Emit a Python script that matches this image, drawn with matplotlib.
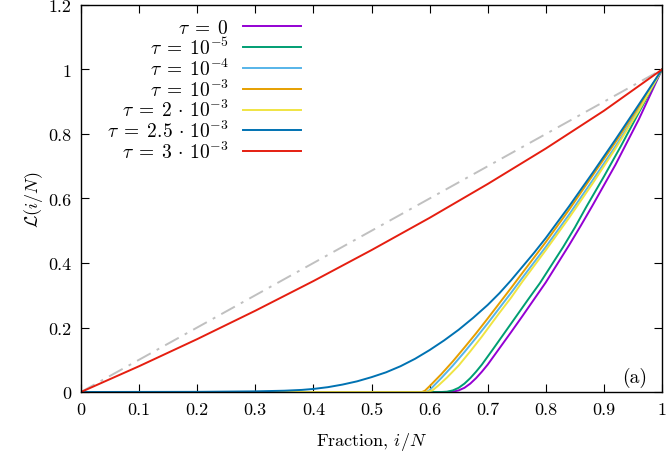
import matplotlib
matplotlib.use("Agg")
import matplotlib.pyplot as plt
from matplotlib.ticker import MultipleLocator, FuncFormatter

plt.rcParams['font.family'] = 'cmr10'
plt.rcParams['mathtext.fontset'] = 'cm'
plt.rcParams['axes.formatter.use_mathtext'] = True

# Lorenz curves
x_tau0 = [0, 0.63, 0.64, 0.65, 0.66, 0.67, 0.68, 0.69, 0.70, 0.72, 0.74, 0.76, 0.78, 0.80, 0.84, 0.86, 0.88, 0.92, 0.96, 1.0]
y_tau0 = [0, 0, 0.001, 0.005, 0.013, 0.026, 0.043, 0.063, 0.085, 0.135, 0.185, 0.236, 0.288, 0.34, 0.455, 0.515, 0.577, 0.705, 0.845, 1.0]

x_tau1e5 = [0, 0.62, 0.63, 0.64, 0.65, 0.66, 0.67, 0.68, 0.69, 0.71, 0.73, 0.75, 0.77, 0.79, 0.83, 0.85, 0.87, 0.90, 0.93, 0.96, 1.0]
y_tau1e5 = [0, 0, 0.001, 0.005, 0.013, 0.026, 0.043, 0.063, 0.085, 0.135, 0.186, 0.237, 0.288, 0.338, 0.45, 0.51, 0.575, 0.668, 0.765, 0.866, 1.0]

x_tau1e4 = [0, 0.595, 0.60, 0.62, 0.64, 0.66, 0.68, 0.70, 0.72, 0.74, 0.76, 0.80, 0.84, 0.88, 0.92, 0.96, 1.0]
y_tau1e4 = [0, 0, 0.006, 0.043, 0.082, 0.124, 0.168, 0.213, 0.26, 0.307, 0.355, 0.45, 0.55, 0.655, 0.762, 0.876, 1.0]

x_tau1e3 = [0, 0.587, 0.592, 0.60, 0.62, 0.64, 0.66, 0.68, 0.70, 0.72, 0.74, 0.76, 0.80, 0.84, 0.88, 0.92, 0.96, 1.0]
y_tau1e3 = [0, 0, 0.004, 0.018, 0.055, 0.095, 0.138, 0.182, 0.228, 0.275, 0.322, 0.37, 0.465, 0.565, 0.67, 0.775, 0.885, 1.0]

x_tau2e3 = [0, 0.595, 0.605, 0.615, 0.63, 0.65, 0.67, 0.69, 0.72, 0.74, 0.76, 0.80, 0.84, 0.88, 0.92, 0.96, 1.0]
y_tau2e3 = [0, 0, 0.005, 0.02, 0.045, 0.082, 0.126, 0.172, 0.245, 0.292, 0.343, 0.44, 0.54, 0.645, 0.755, 0.872, 1.0]

x_tau25e3 = [0, 0.2, 0.3, 0.35, 0.38, 0.40, 0.425, 0.45, 0.475, 0.50, 0.525, 0.55, 0.575, 0.60, 0.625, 0.65, 0.675, 0.70,
             0.72, 0.74, 0.76, 0.78, 0.80, 0.84, 0.88, 0.92, 0.96, 1.0]
y_tau25e3 = [0, 0.0005, 0.002, 0.004, 0.0065, 0.0095, 0.015, 0.023, 0.033, 0.046, 0.061, 0.08, 0.103, 0.13, 0.16, 0.193, 0.23,
             0.27, 0.306, 0.346, 0.389, 0.432, 0.4775, 0.5755, 0.678, 0.783, 0.891, 1.0]

x_tau3e3 = [0, 0.1, 0.2, 0.3, 0.4, 0.5, 0.6, 0.7, 0.8, 0.9, 1.0]
y_tau3e3 = [0, 0.08, 0.164, 0.252, 0.344, 0.44, 0.54, 0.645, 0.755, 0.872, 1.0]

x_equal = [0, 1]
y_equal = [0, 1]

labels = [r'$\tau\;=\;0$', r'$\tau\;=\;10^{-5}$', r'$\tau\;=\;10^{-4}$', r'$\tau\;=\;10^{-3}$',
          r'$\tau\;=\;2\,\cdot\,10^{-3}$', r'$\tau\;=\;2.5\,\cdot\,10^{-3}$', r'$\tau\;=\;3\,\cdot\,10^{-3}$']
colors = ['#9400d3', '#009e73', '#56b4e9', '#e69f00', '#f0e442', '#0072b2', '#e51e10']
curves = [(x_tau0, y_tau0), (x_tau1e5, y_tau1e5), (x_tau1e4, y_tau1e4), (x_tau1e3, y_tau1e3),
          (x_tau2e3, y_tau2e3), (x_tau25e3, y_tau25e3), (x_tau3e3, y_tau3e3)]

fig = plt.figure(figsize=(6.67, 4.56), dpi=100)
ax = fig.add_axes([81/667, 1-393/456, 581/667, 387/456])

ax.plot(x_equal, y_equal, color='#c0c0c0', lw=1.4, dashes=(8, 3.5, 1.5, 3.5))
for (xs, ys), c, lab in zip(curves, colors, labels):
    ax.plot(xs, ys, color=c, lw=1.4, label=lab)

ax.set_xlim(0, 1)
ax.set_ylim(0, 1.2)
ax.xaxis.set_major_locator(MultipleLocator(0.1))
ax.yaxis.set_major_locator(MultipleLocator(0.2))
fmt = FuncFormatter(lambda v, p: '%g' % round(v, 3))
ax.xaxis.set_major_formatter(fmt)
ax.yaxis.set_major_formatter(fmt)
ax.tick_params(direction='in', top=True, right=True, length=6, width=0.8,
               labelsize=13, pad=7)
for s in ax.spines.values():
    s.set_linewidth(1.0)

ax.set_xlabel(r'Fraction, $i/N$', fontsize=13, labelpad=9)
ax.set_ylabel(r'$\mathcal{L}(i/N)$', fontsize=13, labelpad=2)
ax.text(0.953, 0.04, '(a)', transform=ax.transAxes, fontsize=14,
        ha='center', va='center')

ax.legend(loc='upper right', bbox_to_anchor=((301-81)/581, (393-20)/387),
          frameon=False, markerfirst=False, fontsize=14, borderpad=0,
          borderaxespad=0, handlelength=3.0, handletextpad=0.7,
          labelspacing=-0.02)

fig.savefig('out.png', dpi=100)
